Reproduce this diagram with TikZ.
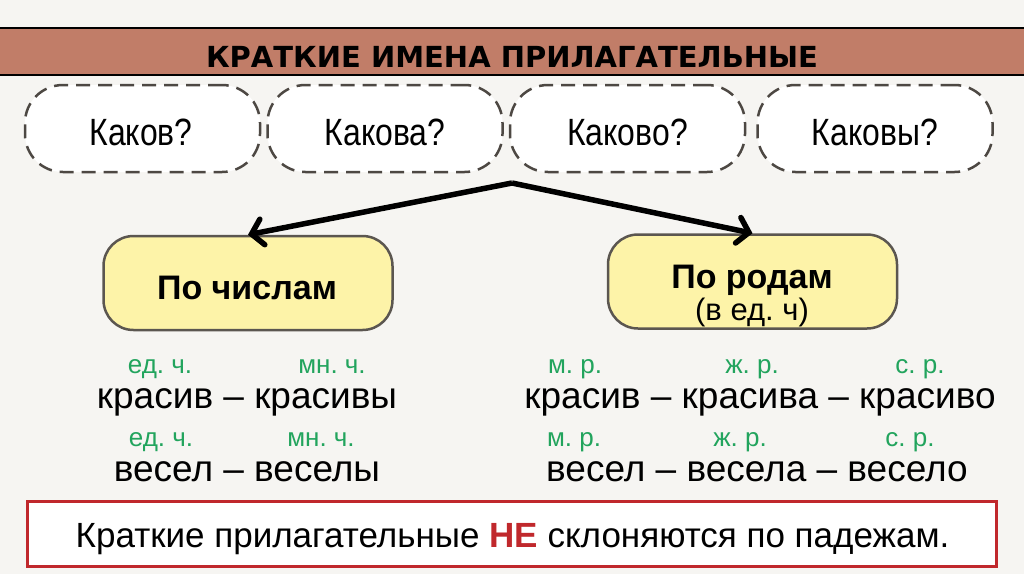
\documentclass[tikz,border=0pt]{standalone}
\usepackage{fontspec}
\setmainfont{Liberation Sans}
\newfontfamily\narrowfont{Liberation Sans}[FakeStretch=0.84]
\newfontfamily\titlefont{DejaVu Sans}
\usetikzlibrary{arrows.meta}
\frenchspacing
\definecolor{bgc}{HTML}{F6F5F2}
\definecolor{bandc}{HTML}{C17D68}
\definecolor{dashc}{HTML}{4D4843}
\definecolor{yelc}{HTML}{FDF3A8}
\definecolor{ybord}{HTML}{5B5650}
\definecolor{greenc}{HTML}{22A45D}
\definecolor{redc}{HTML}{C0282C}
\tikzset{
  qbox/.style={draw=dashc, line width=2.5pt, dash pattern=on 14pt off 8pt, fill=white,
    rounded corners=38pt, minimum width=235pt, minimum height=87pt, inner sep=0pt},
  qtext/.style={anchor=base, inner sep=0pt, font=\narrowfont\fontsize{38}{44}\selectfont},
  ybox/.style={draw=ybord, line width=2.5pt, fill=yelc, rounded corners=30pt,
    minimum width=289pt, minimum height=94pt, inner sep=0pt},
  btext/.style={anchor=base, inner sep=0pt, font=\bfseries\fontsize{34}{40}\selectfont},
  gtext/.style={anchor=base, inner sep=0pt, text=greenc, font=\fontsize{26}{30}\selectfont},
  wtext/.style={anchor=base, inner sep=0pt, font=\fontsize{37}{44}\selectfont},
  arr/.style={line width=5.5pt, line join=round, -{Straight Barb[length=11pt,width=26pt,line cap=round]}},
}
\begin{document}
\begin{tikzpicture}[x=1pt,y=-1pt]
\useasboundingbox (0,0) rectangle (1024,574);
\fill[bgc] (0,0) rectangle (1024,574);
% title band
\fill[bandc] (0,28) rectangle (1024,75);
\draw[line width=2.5pt] (0,28) -- (1024,28);
\draw[line width=2.5pt] (0,75) -- (1024,75);
\node[anchor=base, inner sep=0pt, font=\titlefont\bfseries\fontsize{29}{34}\selectfont] (title) at (512,67) {КРАТКИЕ ИМЕНА ПРИЛАГАТЕЛЬНЫЕ};
% question boxes
\node[qbox] (q1) at (142.5,128.5) {};
\node[qbox] (q2) at (385,128.5) {};
\node[qbox] (q3) at (627.5,128.5) {};
\node[qbox] (q4) at (875,128.5) {};
\node[qtext] (t1) at (141,145) {Каков?};
\node[qtext] (t2) at (385,145) {Какова?};
\node[qtext] (t3) at (627.5,145) {Каково?};
\node[qtext] (t4) at (875,145) {Каковы?};
% yellow boxes
\node[ybox] (nb) at (248,283) {};
\node[ybox] (nr) at (752.5,281.5) {};
\node[btext] (nbt) at (247,299) {По числам};
\node[btext] (nrt) at (752,288) {По родам};
\node[anchor=base, inner sep=0pt, font=\fontsize{31}{36}\selectfont] (nrs) at (752,320) {(в ед. ч)};
% arrows
\coordinate (apex) at (512,183);
\draw[arr] (apex) -- (nb.north);
\draw[arr] (apex) -- (nr.north);
% left examples
\node[gtext] (g1) at (160,373) {ед. ч.};
\node[gtext] (g2) at (332,373) {мн. ч.};
\node[wtext] (w1) at (247,408) {красив – красивы};
\node[gtext] (g3) at (161,446) {ед. ч.};
\node[gtext] (g4) at (321,446) {мн. ч.};
\node[wtext] (w2) at (247,481) {весел – веселы};
% right examples
\node[gtext] (g5) at (575,373) {м. р.};
\node[gtext] (g6) at (752,373) {ж. р.};
\node[gtext] (g7) at (920,373) {с. р.};
\node[wtext] (w3) at (760,408) {красив – красива – красиво};
\node[gtext] (g8) at (574,446) {м. р.};
\node[gtext] (g9) at (740,446) {ж. р.};
\node[gtext] (g10) at (910,446) {с. р.};
\node[wtext] (w4) at (757,481) {весел – весела – весело};
% bottom note
\node[draw=redc, line width=3pt, fill=white, minimum width=969pt, minimum height=65pt, inner sep=0pt] (note) at (511.5,534) {};
\node[anchor=base, inner sep=0pt, font=\fontsize{35}{40}\selectfont] (notet) at (512.5,547) {Краткие прилагательные \textcolor{redc}{\bfseries НЕ} склоняются по падежам.};
\end{tikzpicture}
\end{document}
